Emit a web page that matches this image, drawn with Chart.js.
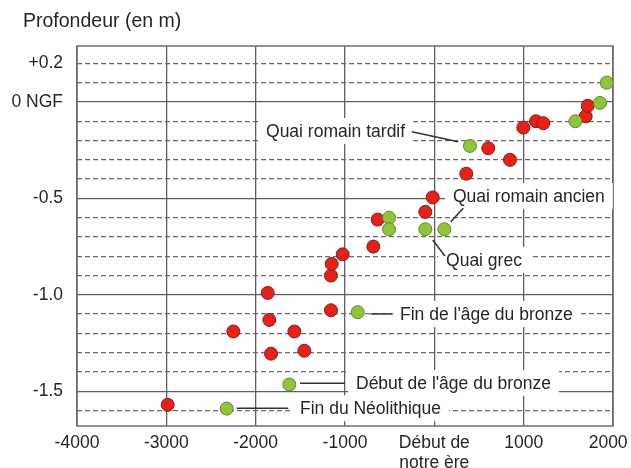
<!DOCTYPE html>
<html>
<head>
<meta charset="utf-8">
<title>Profondeur des quais</title>
<script src="https://cdn.jsdelivr.net/npm/chart.js@4.4.1/dist/chart.umd.min.js"></script>
<style>
  html, body { margin: 0; padding: 0; background: #fff; }
</style>
</head>
<body>
<canvas id="graphique" width="631" height="468"></canvas>
<script>
// points rouges : date (années) et profondeur (m NGF)
const rougesAnnees = [-2985, -2250, -1865, -1847, -1828, -1567, -1455, -1157, -1157, -1149, -1026,
  -683, -634, -101, -18, 358, 604, 847, 996, 1138, 1220, 1694, 1717];
const rougesProf = [-1.57, -1.19, -0.99, -1.13, -1.305, -1.19, -1.29, -1.08, -0.90, -0.84, -0.79,
  -0.75, -0.61, -0.57, -0.495, -0.372, -0.24, -0.30, -0.133, -0.10, -0.11, -0.075, -0.02];

// points verts (niveaux de référence)
const vertsAnnees = [-2324, -1623, -858, -507, -507, -101, 112, 399, 1579, 1855, 1930];
const vertsProf = [-1.59, -1.465, -1.09, -0.60, -0.66, -0.66, -0.66, -0.228, -0.10, -0.005, 0.10];

// axes (le dernier libellé est décalé vers la gauche comme sur l'original)
const graduationsX = [-4000, -3000, -2000, -1000, 0, 1000, 2000];
const etiquettesX = ["-4000", "-3000", "-2000", "-1000", ["Début de", "notre ère"], "1000", "2000  "];
const graduationsY = [0.2, 0.1, 0, -0.1, -0.2, -0.3, -0.4, -0.5, -0.6, -0.7, -0.8, -0.9,
  -1, -1.1, -1.2, -1.3, -1.4, -1.5, -1.6];
const etiquettesY = { "0.2": "+0.2", "0": "0 NGF", "-0.5": "-0.5", "-1": "-1.0", "-1.5": "-1.5" };
const lignesPleines = [0, -0.5, -1, -1.5];

// annotations : texte (x, y = bord gauche / milieu) et trait de rappel, en unités des axes
const notes = [
  { texte: "Quai romain tardif", x: -1884, y: -0.151, trait: [-253, -0.154, 268, -0.206] },
  { texte: "Quai romain ancien", x: 209, y: -0.488, trait: [324, -0.551, 183, -0.621] },
  { texte: "Quai grec", x: 131, y: -0.819, trait: [-18, -0.716, 119, -0.799] },
  { texte: "Fin de l'âge du bronze", x: -384, y: -1.099, trait: [-712, -1.099, -466, -1.099] },
  { texte: "Début de l'âge du bronze", x: -877, y: -1.457, trait: [-1504, -1.459, -1000, -1.459] },
  { texte: "Fin du Néolithique", x: -1504, y: -1.588, trait: [-2212, -1.588, -1635, -1.588] }
];

const POLICE = "'Liberation Sans', Arial, Helvetica, sans-serif";
const COULEUR_TEXTE = "#262626";

Chart.defaults.font.family = POLICE;
Chart.defaults.font.size = 17.5;
Chart.defaults.color = COULEUR_TEXTE;

function points(xs, ys) {
  return xs.map((x, i) => ({ x: x, y: ys[i] }));
}

// cadre, cartouches blancs, traits et textes des annotations
const annotations = {
  id: "annotations",
  beforeDatasetsDraw(chart) {
    const ctx = chart.ctx;
    const sx = chart.scales.x;
    const sy = chart.scales.y;
    const a = chart.chartArea;

    ctx.save();
    ctx.strokeStyle = "#6e6e6e";
    ctx.lineWidth = 1.5;
    ctx.strokeRect(a.left, a.top, a.right - a.left, a.bottom - a.top);

    ctx.font = "17.5px " + POLICE;
    ctx.textBaseline = "middle";
    ctx.textAlign = "left";

    notes.forEach(n => {
      const px = sx.getPixelForValue(n.x);
      const py = sy.getPixelForValue(n.y);
      const w = ctx.measureText(n.texte).width;
      ctx.fillStyle = "#fff";
      ctx.fillRect(px - 8, py - 13, w + 16, 26);
    });

    ctx.strokeStyle = "#333";
    ctx.lineWidth = 1.5;
    notes.forEach(n => {
      const t = n.trait;
      ctx.beginPath();
      ctx.moveTo(sx.getPixelForValue(t[0]), sy.getPixelForValue(t[1]));
      ctx.lineTo(sx.getPixelForValue(t[2]), sy.getPixelForValue(t[3]));
      ctx.stroke();
    });

    ctx.fillStyle = COULEUR_TEXTE;
    notes.forEach(n => {
      ctx.fillText(n.texte, sx.getPixelForValue(n.x), sy.getPixelForValue(n.y) + 1);
    });

    ctx.font = "19.5px " + POLICE;
    ctx.fillText("Profondeur (en m)", a.left - 54, a.top - 24);
    ctx.restore();
  }
};

new Chart(document.getElementById("graphique"), {
  type: "scatter",
  data: {
    datasets: [
      {
        label: "Niveaux de quais",
        data: points(vertsAnnees, vertsProf),
        backgroundColor: "#8fc43c",
        borderColor: "#5e8a26",
        borderWidth: 1,
        pointRadius: 6.5
      },
      {
        label: "Autres niveaux",
        data: points(rougesAnnees, rougesProf),
        backgroundColor: "#e5211c",
        borderColor: "#8e1a14",
        borderWidth: 1,
        pointRadius: 6.5
      }
    ]
  },
  options: {
    responsive: false,
    animation: false,
    events: [],
    layout: { padding: { top: 46, right: 18, bottom: 0, left: 0 } },
    plugins: {
      legend: { display: false },
      tooltip: { enabled: false },
      title: { display: false }
    },
    scales: {
      x: {
        type: "linear",
        min: -4000,
        max: 2000,
        afterBuildTicks: s => { s.ticks = graduationsX.map(v => ({ value: v })); },
        afterFit: s => { s.height = 42; s.paddingLeft = 0; s.paddingRight = 0; },
        grid: { color: "#5f5f5f", lineWidth: 1.3, drawTicks: false },
        border: { display: false },
        ticks: {
          autoSkip: false,
          maxRotation: 0,
          padding: 8,
          font: { size: 17.5, lineHeight: 1.1 },
          callback: (v, i) => etiquettesX[i]
        }
      },
      y: {
        type: "linear",
        min: -1.68,
        max: 0.29,
        afterBuildTicks: s => { s.ticks = graduationsY.map(v => ({ value: v })); },
        afterFit: s => { s.width = 77; },
        grid: {
          drawTicks: false,
          color: c => (c.tick && lignesPleines.includes(c.tick.value)) ? "#5f5f5f" : "#6a6a6a",
          lineWidth: 1.3
        },
        border: {
          display: false,
          dash: c => (c.tick && !lignesPleines.includes(c.tick.value)) ? [5, 3] : []
        },
        ticks: {
          autoSkip: false,
          padding: 14,
          callback: v => etiquettesY[String(v)] || ""
        }
      }
    }
  },
  plugins: [annotations]
});
</script>
</body>
</html>
